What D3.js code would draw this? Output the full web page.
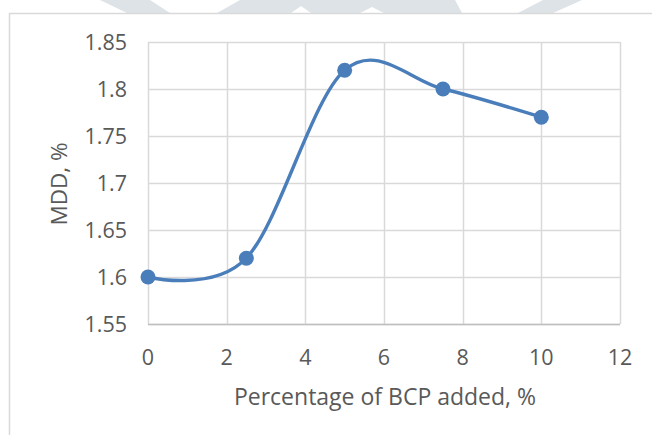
<!DOCTYPE html>
<html>
<head>
<meta charset="utf-8">
<script src="https://cdn.jsdelivr.net/npm/d3@7"></script>
<style>
  html, body { margin: 0; padding: 0; background: #ffffff; }
  svg { display: block; }
  text { font-family: "Open Sans", "Liberation Sans", sans-serif; fill: #595959; }
</style>
</head>
<body>
<svg id="chart" width="652" height="435"></svg>
<script>
// BCP dosage (%) and the resulting MDD (%)
const bcpAdded = [0, 2.5, 5, 7.5, 10];
const mddValues = [1.60, 1.62, 1.82, 1.80, 1.77];
const xTicks = [0, 2, 4, 6, 8, 10, 12];
const yTicks = [1.55, 1.60, 1.65, 1.70, 1.75, 1.80, 1.85];
const xTitle = "Percentage of BCP added, %";
const yTitle = "MDD, %";

const svg = d3.select("#chart");
const W = 652, H = 435;
const plot = { left: 148, right: 620, top: 42, bottom: 324 };

// faint page watermark shapes along the top edge
const wm = svg.append("g").attr("fill", "#dde3e6");
const wmShapes = [
  [[100, 0], [150, 0], [170, 13], [127, 13]],
  [[240, 0], [455, 0], [462, 13], [217, 13]],
  [[543, 0], [582, 0], [553, 13], [518, 13]]
];
wm.selectAll("polygon").data(wmShapes).join("polygon")
  .attr("points", d => d.map(p => p.join(",")).join(" "));
const wmNotches = [
  [[291, 13], [301, 6], [311, 13]],
  [[360, 13], [372, 7], [384, 13]]
];
svg.append("g").attr("fill", "#ffffff").selectAll("polygon").data(wmNotches).join("polygon")
  .attr("points", d => d.map(p => p.join(",")).join(" "));

// chart frame
svg.append("path")
  .attr("d", `M9.5,${H} V13.5 H${W}`)
  .attr("fill", "none").attr("stroke", "#d9d9d9").attr("stroke-width", 1.5);

const x = d3.scaleLinear().domain([0, 12]).range([plot.left, plot.right]);
const y = d3.scaleLinear().domain([1.55, 1.85]).range([plot.bottom, plot.top]);

// gridlines
const grid = svg.append("g").attr("stroke", "#d9d9d9").attr("stroke-width", 1.5);
grid.selectAll("line.h").data(yTicks).join("line").attr("class", "h")
  .attr("x1", plot.left).attr("x2", plot.right)
  .attr("y1", d => Math.round(y(d)) + 0.5).attr("y2", d => Math.round(y(d)) + 0.5);
grid.selectAll("line.v").data(xTicks).join("line").attr("class", "v")
  .attr("y1", plot.top).attr("y2", plot.bottom)
  .attr("x1", d => Math.round(x(d)) + 0.5).attr("x2", d => Math.round(x(d)) + 0.5);

// bottom axis line
svg.append("line")
  .attr("x1", plot.left).attr("x2", plot.right)
  .attr("y1", plot.bottom + 0.5).attr("y2", plot.bottom + 0.5)
  .attr("stroke", "#bfbfbf").attr("stroke-width", 1.5);

// tick labels
const fmtY = d => d3.format(".2f")(d).replace(/0$/, "").replace(/\.$/, "");
svg.append("g").selectAll("text").data(yTicks).join("text")
  .attr("x", 127).attr("y", d => y(d)).attr("dy", "0.36em")
  .attr("text-anchor", "end").attr("font-size", 21.5)
  .text(fmtY);
svg.append("g").selectAll("text").data(xTicks).join("text")
  .attr("x", d => x(d)).attr("y", 365)
  .attr("text-anchor", "middle").attr("font-size", 21.5)
  .text(d => d);

// axis titles
svg.append("text")
  .attr("x", 385).attr("y", 405).attr("text-anchor", "middle")
  .attr("font-size", 23).text(xTitle);
svg.append("text")
  .attr("transform", `translate(67,${(plot.top + plot.bottom) / 2 + 1}) rotate(-90)`)
  .attr("text-anchor", "middle").attr("font-size", 22.5).text(yTitle);

// smoothed series line and markers
const pts = bcpAdded.map((v, i) => [v, mddValues[i]]);
const line = d3.line().x(d => x(d[0])).y(d => y(d[1])).curve(d3.curveCardinal.tension(0));
svg.append("path").datum(pts)
  .attr("d", line).attr("fill", "none")
  .attr("stroke", "#4a7ebb").attr("stroke-width", 3.4).attr("stroke-linecap", "round");
svg.append("g").selectAll("circle").data(pts).join("circle")
  .attr("cx", d => x(d[0])).attr("cy", d => y(d[1])).attr("r", 7.5)
  .attr("fill", "#4a7ebb");
</script>
</body>
</html>
